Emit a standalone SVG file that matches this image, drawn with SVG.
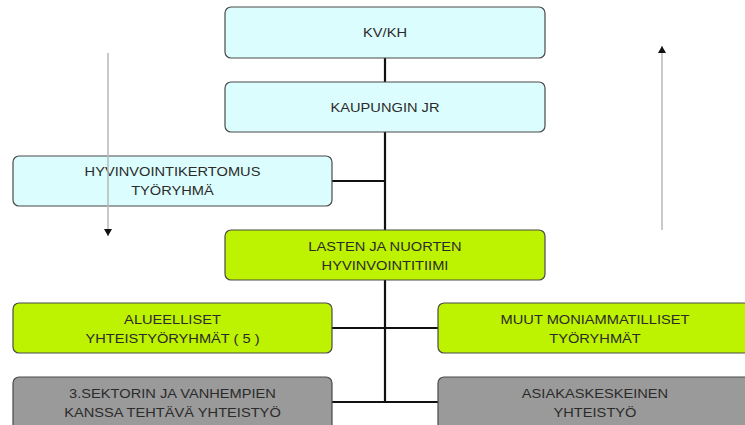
<svg xmlns="http://www.w3.org/2000/svg" width="745" height="425" viewBox="0 0 745 425">
  <style>
    .box { stroke: #4a4a4a; stroke-width: 1.2; }
    .cyan { fill: #dcfdfd; }
    .lime { fill: #bdf200; }
    .grey { fill: #9a9a9a; }
    .lbl { font-family: "Liberation Sans", Arial, sans-serif; font-size: 12px; fill: #2b2b2b; text-anchor: middle; }
    .conn { stroke: #111; stroke-width: 2.2; fill: none; }
    .flow { stroke: #b8b8b8; stroke-width: 1.5; fill: none; marker-end: url(#tip); }
  </style>
  <defs>
    <marker id="tip" markerUnits="userSpaceOnUse" markerWidth="7" markerHeight="8" refX="7" refY="4" orient="auto">
      <path d="M0,0 L7,4 L0,8 z" fill="#111"/>
    </marker>
  </defs>

  <rect width="745" height="425" fill="#ffffff"/>

  <!-- connectors -->
  <g id="connectors">
    <line class="conn" x1="385" y1="58" x2="385" y2="403"/>
    <line class="conn" x1="332" y1="181" x2="385" y2="181"/>
    <line class="conn" x1="332" y1="328" x2="438" y2="328"/>
    <line class="conn" x1="332" y1="402" x2="438" y2="402"/>
  </g>

  <g id="kvkh">
    <rect class="box cyan" x="225" y="7" width="320" height="51" rx="6"/>
    <text class="lbl" transform="translate(385,37) scale(1.22,1)">KV/KH</text>
  </g>

  <g id="kaupungin-jr">
    <rect class="box cyan" x="225" y="82" width="320" height="50" rx="6"/>
    <text class="lbl" transform="translate(385,111.5) scale(1.22,1)">KAUPUNGIN JR</text>
  </g>

  <g id="hyvinvointikertomus">
    <rect class="box cyan" x="13" y="156" width="319" height="50" rx="6"/>
    <text class="lbl" transform="translate(172.5,176) scale(1.22,1)">HYVINVOINTIKERTOMUS</text>
    <text class="lbl" transform="translate(172.5,195) scale(1.22,1)">TYÖRYHMÄ</text>
  </g>

  <g id="hyvinvointitiimi">
    <rect class="box lime" x="225" y="230" width="320" height="50" rx="6"/>
    <text class="lbl" transform="translate(385,250.5) scale(1.22,1)">LASTEN JA NUORTEN</text>
    <text class="lbl" transform="translate(385,269.5) scale(1.22,1)">HYVINVOINTITIIMI</text>
  </g>

  <g id="alueelliset">
    <rect class="box lime" x="13" y="303" width="319" height="50" rx="6"/>
    <text class="lbl" transform="translate(172.5,323.5) scale(1.22,1)">ALUEELLISET</text>
    <text class="lbl" transform="translate(172.5,342.5) scale(1.22,1)">YHTEISTYÖRYHMÄT ( 5 )</text>
  </g>

  <g id="muut">
    <rect class="box lime" x="438" y="303" width="314" height="50" rx="6"/>
    <text class="lbl" transform="translate(595,323.5) scale(1.22,1)">MUUT MONIAMMATILLISET</text>
    <text class="lbl" transform="translate(595,342.5) scale(1.22,1)">TYÖRYHMÄT</text>
  </g>

  <g id="sektori">
    <rect class="box grey" x="13" y="377" width="319" height="54" rx="6"/>
    <text class="lbl" transform="translate(172.5,397.5) scale(1.22,1)">3.SEKTORIN JA VANHEMPIEN</text>
    <text class="lbl" transform="translate(172.5,416.5) scale(1.22,1)">KANSSA TEHTÄVÄ YHTEISTYÖ</text>
  </g>

  <g id="asiakaskeskeinen">
    <rect class="box grey" x="438" y="377" width="314" height="54" rx="6"/>
    <text class="lbl" transform="translate(595,397.5) scale(1.22,1)">ASIAKASKESKEINEN</text>
    <text class="lbl" transform="translate(595,416.5) scale(1.22,1)">YHTEISTYÖ</text>
  </g>

  <!-- side flow arrows -->
  <g id="flows">
    <line class="flow" x1="108" y1="53" x2="108" y2="236"/>
    <line class="flow" x1="662" y1="230" x2="662" y2="46"/>
  </g>
</svg>
